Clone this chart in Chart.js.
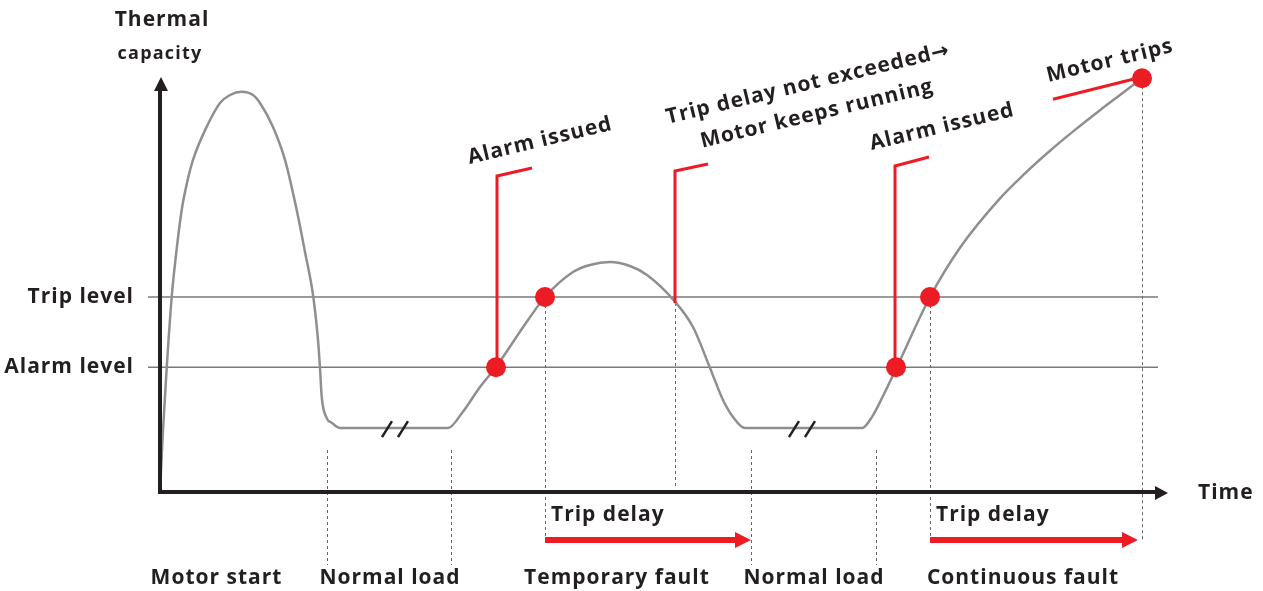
<!DOCTYPE html>
<html>
<head>
<meta charset="utf-8">
<script src="https://cdn.jsdelivr.net/npm/chart.js@4/dist/chart.umd.min.js"></script>
<style>
html,body{margin:0;padding:0;background:#fff;}
#wrap{width:1263px;height:591px;position:relative;}
</style>
</head>
<body>
<div id="wrap"><canvas id="c"></canvas></div>
<script>
// ---- data (time in arbitrary units, capacity in % of trip level) ----
const timeValues = [0,0.3,0.67,1.17,1.6,2.17,2.7,3.3,4.67,6.0,7.0,8.17,9.3,10.0,11.3,12.5,13.67,14.5,15.33,15.8,16.0,16.17,16.67,17.2,18.0,
  28.8,30.2,32.0,33.6,36.8,38.5,41.3,43.0,45.0,47.0,48.7,51.5,53.3,55.0,56.3,57.3,58.5,
  70.2,71.2,72.3,73.6,77.0,80.0,84.0,86.5,89.0,91.5,94.0,96.0,98.2];
const capacityValues = [0,31.8,63.6,100,121.5,144.6,158.5,170.3,187.3,199.5,203.6,205.3,203.6,199.5,187.2,170.3,144.6,123.1,100,77.9,63.6,48.9,37.9,35.4,32.8,
  32.8,40.5,53.8,64.1,88.2,100,112.8,116.4,117.9,115.9,111.3,97.6,84.6,63.6,47.2,38.5,32.8,
  32.8,38.5,49.2,63.1,100,125.3,150.6,163.4,175.0,185.7,195.8,203.6,212.2];

const levelNames = ['Trip level', 'Alarm level'];
const levelValues = [100, 64];

const eventTimes = [33.6, 38.5, 73.6, 77.0, 98.2];
const eventCapacity = [64, 100, 64, 100, 212.2];
const noTripTime = 51.5;

const phaseLabels = ['Motor start', 'Normal load', 'Temporary fault', 'Normal load', 'Continuous fault'];
const phaseCenters = [5.65, 23.0, 45.7, 65.4, 86.3];
const phaseBounds = [16.7, 29.1, 59.1, 71.6];
const breakTimes = [23.5, 64.2];

const tripDelayStart = [38.5, 77.0];
const tripDelayEnd = [59.1, 97.8];

const yAxisTitle = ['Thermal', 'capacity'];
const xAxisTitle = 'Time';
const calloutTexts = {
  alarm: 'Alarm issued',
  noTrip: ['Trip delay not exceeded\u2192', 'Motor keeps running'],
  trips: 'Motor trips',
  delay: 'Trip delay'
};

// ---- styling ----
const RED = '#ed1c24';
const DARK = '#231f20';
const GREY = '#8f8f8f';
const FONT = '"Open Sans", "DejaVu Sans", sans-serif';
const MAIN_FONT = 'bold 21px ' + FONT;

const curveData = timeValues.map((t, i) => ({x: t, y: capacityValues[i]}));
const eventData = eventTimes.map((t, i) => ({x: t, y: eventCapacity[i]}));

const backPlugin = {
  id: 'back',
  beforeDatasetsDraw(chart) {
    const {ctx, chartArea: a, scales: {x, y}} = chart;
    ctx.save();
    // level lines
    ctx.strokeStyle = '#7a7a7a';
    ctx.lineWidth = 1.5;
    ctx.font = MAIN_FONT;
    ctx.letterSpacing = '1px';
    ctx.fillStyle = DARK;
    ctx.textAlign = 'right';
    ctx.textBaseline = 'middle';
    levelValues.forEach((v, i) => {
      const py = y.getPixelForValue(v);
      ctx.beginPath();
      ctx.moveTo(a.left - 12, py);
      ctx.lineTo(a.right - 2, py);
      ctx.stroke();
      ctx.fillText(levelNames[i], a.left - 26, py);
    });
    ctx.letterSpacing = '0px';
    // dashed phase lines
    ctx.strokeStyle = '#666';
    ctx.lineWidth = 1;
    ctx.setLineDash([3, 3]);
    const yb = y.getPixelForValue(0);
    phaseBounds.forEach(t => {
      const px = Math.round(x.getPixelForValue(t)) + 0.5;
      ctx.beginPath();
      ctx.moveTo(px, yb - 42);
      ctx.lineTo(px, yb + 73);
      ctx.stroke();
    });
    // dashed event lines (trip level crossings and trip)
    [1, 3, 4].forEach(i => {
      const px = Math.round(x.getPixelForValue(eventTimes[i])) + 0.5;
      ctx.beginPath();
      ctx.moveTo(px, y.getPixelForValue(eventCapacity[i]) + 8);
      ctx.lineTo(px, yb + 49);
      ctx.stroke();
    });
    {
      const px = Math.round(x.getPixelForValue(noTripTime)) + 0.5;
      ctx.beginPath();
      ctx.moveTo(px, y.getPixelForValue(100) + 6);
      ctx.lineTo(px, yb - 3);
      ctx.stroke();
    }
    ctx.setLineDash([]);
    ctx.restore();
  },
  afterDatasetsDraw(chart) {
    const {ctx, chartArea: a, scales: {x, y}} = chart;
    ctx.save();
    const x0 = x.getPixelForValue(0), y0 = y.getPixelForValue(0);
    // axes
    ctx.strokeStyle = DARK;
    ctx.fillStyle = DARK;
    ctx.lineWidth = 4;
    ctx.beginPath();
    ctx.moveTo(x0, y0 + 2);
    ctx.lineTo(x0, a.top + 26);
    ctx.moveTo(x0 - 2, y0);
    ctx.lineTo(a.right - 4, y0);
    ctx.stroke();
    ctx.beginPath();
    ctx.moveTo(x0 + 1, a.top + 14);
    ctx.lineTo(x0 + 8, a.top + 28);
    ctx.lineTo(x0 - 6, a.top + 28);
    ctx.closePath();
    ctx.fill();
    ctx.beginPath();
    ctx.moveTo(a.right + 8, y0 + 1);
    ctx.lineTo(a.right - 5, y0 + 8);
    ctx.lineTo(a.right - 5, y0 - 6);
    ctx.closePath();
    ctx.fill();

    // break marks
    ctx.lineWidth = 2.5;
    breakTimes.forEach(t => {
      const cx = x.getPixelForValue(t), cy = y.getPixelForValue(32.8) + 1;
      [-8, 8].forEach(o => {
        ctx.beginPath();
        ctx.moveTo(cx + o - 5, cy + 8);
        ctx.lineTo(cx + o + 5, cy - 8);
        ctx.stroke();
      });
    });

    // red callouts
    ctx.strokeStyle = RED;
    ctx.lineWidth = 3;
    const callout = (px, pyBottom, pyTop, dx, dy) => {
      ctx.beginPath();
      ctx.moveTo(px, pyBottom);
      ctx.lineTo(px, pyTop);
      ctx.lineTo(px + dx, pyTop - dy);
      ctx.stroke();
    };
    callout(x.getPixelForValue(eventTimes[0]) + 1, y.getPixelForValue(eventCapacity[0]), 176, 35, 8);
    callout(x.getPixelForValue(noTripTime), y.getPixelForValue(100) + 6, 171, 33, 7);
    callout(x.getPixelForValue(eventTimes[2]) - 1, y.getPixelForValue(eventCapacity[2]), 166, 34, 9);
    {
      const ex = x.getPixelForValue(eventTimes[4]), ey = y.getPixelForValue(eventCapacity[4]);
      ctx.beginPath();
      ctx.moveTo(ex - 89, ey + 21);
      ctx.lineTo(ex - 5, ey);
      ctx.stroke();
    }

    // trip delay arrows
    ctx.letterSpacing = '1px';
    ctx.fillStyle = RED;
    tripDelayStart.forEach((s, i) => {
      const sx = x.getPixelForValue(s), ex = x.getPixelForValue(tripDelayEnd[i]);
      const ay = y0 + 48;
      ctx.fillRect(sx, ay - 3, ex - sx - 14, 6);
      ctx.beginPath();
      ctx.moveTo(ex, ay);
      ctx.lineTo(ex - 16, ay - 8);
      ctx.lineTo(ex - 16, ay + 8);
      ctx.closePath();
      ctx.fill();
      ctx.fillStyle = DARK;
      ctx.font = MAIN_FONT;
      ctx.textAlign = 'left';
      ctx.textBaseline = 'middle';
      ctx.fillText(calloutTexts.delay, sx + 6, y0 + 23);
      ctx.fillStyle = RED;
    });

    // texts
    ctx.fillStyle = DARK;
    ctx.textBaseline = 'middle';
    ctx.textAlign = 'center';
    ctx.font = MAIN_FONT;
    ctx.fillText(yAxisTitle[0], x0 + 2, 20);
    ctx.letterSpacing = '1.2px';
    ctx.font = 'bold 18px ' + FONT;
    ctx.fillText(yAxisTitle[1], x0, 54);
    ctx.letterSpacing = '1px';
    ctx.font = MAIN_FONT;
    ctx.textAlign = 'left';
    ctx.fillText(xAxisTitle, a.right + 38, y0 + 1);
    ctx.textAlign = 'center';
    phaseLabels.forEach((l, i) => {
      ctx.fillText(l, x.getPixelForValue(phaseCenters[i]), y0 + 86);
    });
    const rot = (txt, cx, cy) => {
      ctx.save();
      ctx.translate(cx, cy);
      ctx.rotate(-13.5 * Math.PI / 180);
      ctx.fillText(txt, 0, 0);
      ctx.restore();
    };
    rot(calloutTexts.alarm, 540, 141);
    rot(calloutTexts.noTrip[0], 808, 84);
    rot(calloutTexts.noTrip[1], 817, 114);
    rot(calloutTexts.alarm, 942, 127);
    rot(calloutTexts.trips, 1110, 61);
    ctx.restore();
  }
};

new Chart(document.getElementById('c'), {
  type: 'line',
  data: {
    datasets: [
      {
        data: curveData,
        borderColor: GREY,
        borderWidth: 2.5,
        pointRadius: 0,
        cubicInterpolationMode: 'monotone',
        fill: false,
        clip: false,
        order: 2
      },
      {
        type: 'scatter',
        data: eventData,
        backgroundColor: RED,
        borderColor: RED,
        borderWidth: 0,
        pointRadius: 10,
        clip: false,
        order: 1
      }
    ]
  },
  options: {
    responsive: true,
    maintainAspectRatio: false,
    animation: false,
    events: [],
    layout: {padding: {left: 160, right: 103, top: 63, bottom: 99}},
    plugins: {legend: {display: false}, tooltip: {enabled: false}, title: {display: false}},
    scales: {
      x: {type: 'linear', min: 0, max: 100, display: false},
      y: {type: 'linear', min: 0, max: 220, display: false}
    }
  },
  plugins: [backPlugin]
});
</script>
</body>
</html>
